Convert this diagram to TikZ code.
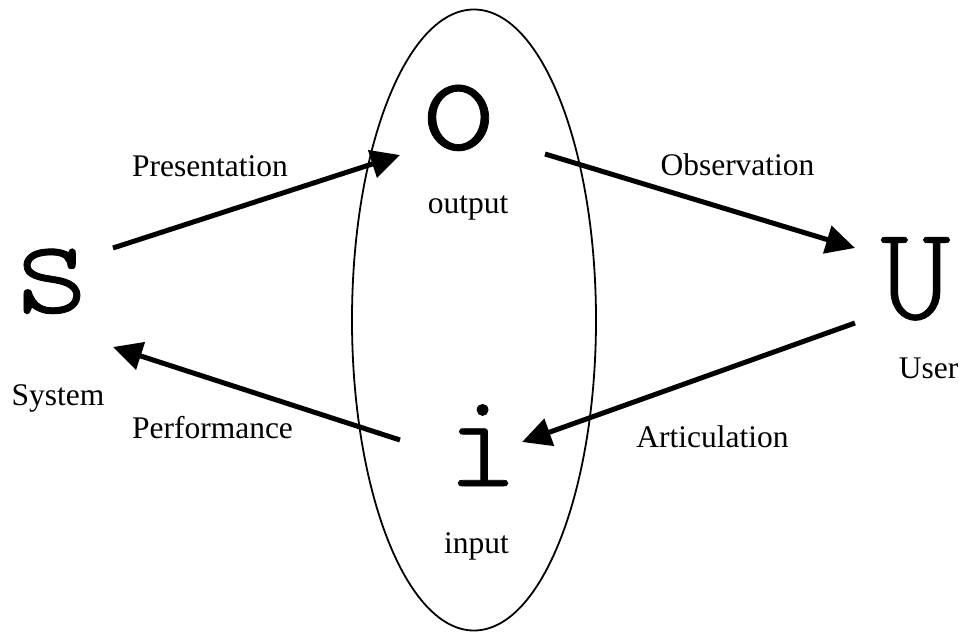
\documentclass[tikz,border=0pt]{standalone}
\usepackage{fontspec}
\setmainfont{Liberation Serif}
\newfontfamily\lightmono[FakeBold=0.5]{Latin Modern Mono Light}
\usetikzlibrary{arrows.meta,shapes.geometric}
\tikzset{
  lbl/.style={inner sep=0pt, anchor=base, font=\fontsize{31.5}{32}\selectfont},
  bigletter/.style={inner sep=0pt, anchor=base},
  flow/.style={line width=5pt, -{Triangle[length=29pt,width=28pt]}},
  frame/.style={draw, line width=1.8pt, ellipse, inner sep=0pt}
}
\begin{document}
\begin{tikzpicture}[x=1pt,y=-1pt]
\useasboundingbox (0,0) rectangle (961,632);
\node[frame, minimum width=244pt, minimum height=621pt] (ell) at (474,320) {};
% big letters
\node[bigletter, font=\lightmono\fontsize{148}{148}\selectfont] (S) at (51.5,313) {s};
\node[bigletter, font=\lightmono\fontsize{150}{150}\selectfont] (O) at (458.5,150) {o};
\node[bigletter, font=\lightmono\fontsize{134}{134}\selectfont] (U) at (915.5,319) {U};
\node[bigletter, font=\lightmono\fontsize{135}{135}\selectfont] (I) at (482.5,486) {i};
% labels
\node[lbl] (pres) at (210,176) {Presentation};
\node[lbl] (obs) at (737.5,175) {Observation};
\node[lbl] (outp) at (468,213) {output};
\node[lbl] (sys) at (58,405) {System};
\node[lbl] (usr) at (928.5,378) {User};
\node[lbl] (perf) at (212.5,438) {Performance};
\node[lbl] (art) at (712.5,447) {Articulation};
\node[lbl] (inp) at (476.5,553) {input};
% arrow end points
\coordinate (s1) at (113,248);
\coordinate (o1) at (400,155);
\coordinate (o2) at (545,154);
\coordinate (u1) at (855,248);
\coordinate (u2) at (855,323);
\coordinate (i1) at (522,442);
\coordinate (i2) at (400,440);
\coordinate (s2) at (113,347);
\draw[flow] (s1) -- (o1);
\draw[flow] (o2) -- (u1);
\draw[flow] (u2) -- (i1);
\draw[flow] (i2) -- (s2);
\end{tikzpicture}
\end{document}
